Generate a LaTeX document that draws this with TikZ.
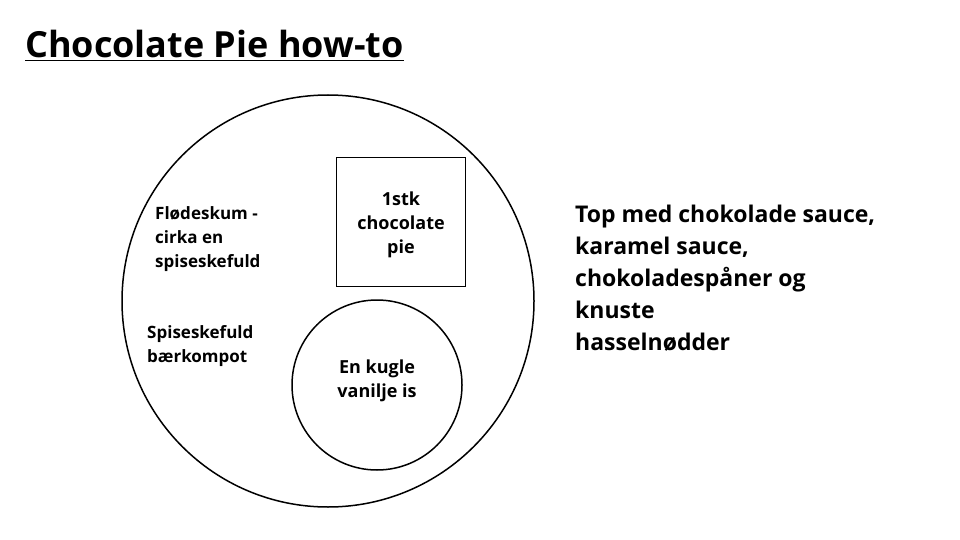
\documentclass[tikz,border=0pt]{standalone}
\usepackage{fontspec}
\setmainfont{Open Sans}
\tikzset{
  txt/.style={anchor=north west, align=left, font=\bfseries\fontsize{17}{24}\selectfont, inner sep=0pt},
  shapeline/.style={draw=black, line width=1.5pt}
}
\begin{document}
\begin{tikzpicture}[x=1pt,y=-1pt]
\useasboundingbox (0,0) rectangle (960,540);
\node [anchor=base west, inner sep=0pt, font=\bfseries\fontsize{36}{40}\selectfont] (title) at (25,58) {\underline{Chocolate Pie how-to}};
\node [shapeline, circle, minimum size=412pt, inner sep=0pt] (plate) at (328,301) {};
\node [shapeline, rectangle, minimum size=129pt, inner sep=0pt] (pie) at (401,222) {};
\node [shapeline, circle, minimum size=170pt, inner sep=0pt] (icecream) at (377,385) {};
\node [align=center, font=\bfseries\fontsize{18}{24}\selectfont] (pietext) at ([yshift=-3pt]pie) {1stk\\chocolate\\pie};
\node [align=center, font=\bfseries\fontsize{18}{24}\selectfont] (icetext) at ([yshift=4pt]icecream) {En kugle\\vanilje is};
\node [txt] (cream) at (155,206) {Flødeskum -\\cirka en\\spiseskefuld};
\node [txt] (compote) at (147,325) {Spiseskefuld\\bærkompot};
\node [txt, font=\bfseries\fontsize{23}{32}\selectfont] (topping) at (575,205) {Top med chokolade sauce,\\karamel sauce,\\chokoladespåner og\\knuste\\hasselnødder};
\end{tikzpicture}
\end{document}
